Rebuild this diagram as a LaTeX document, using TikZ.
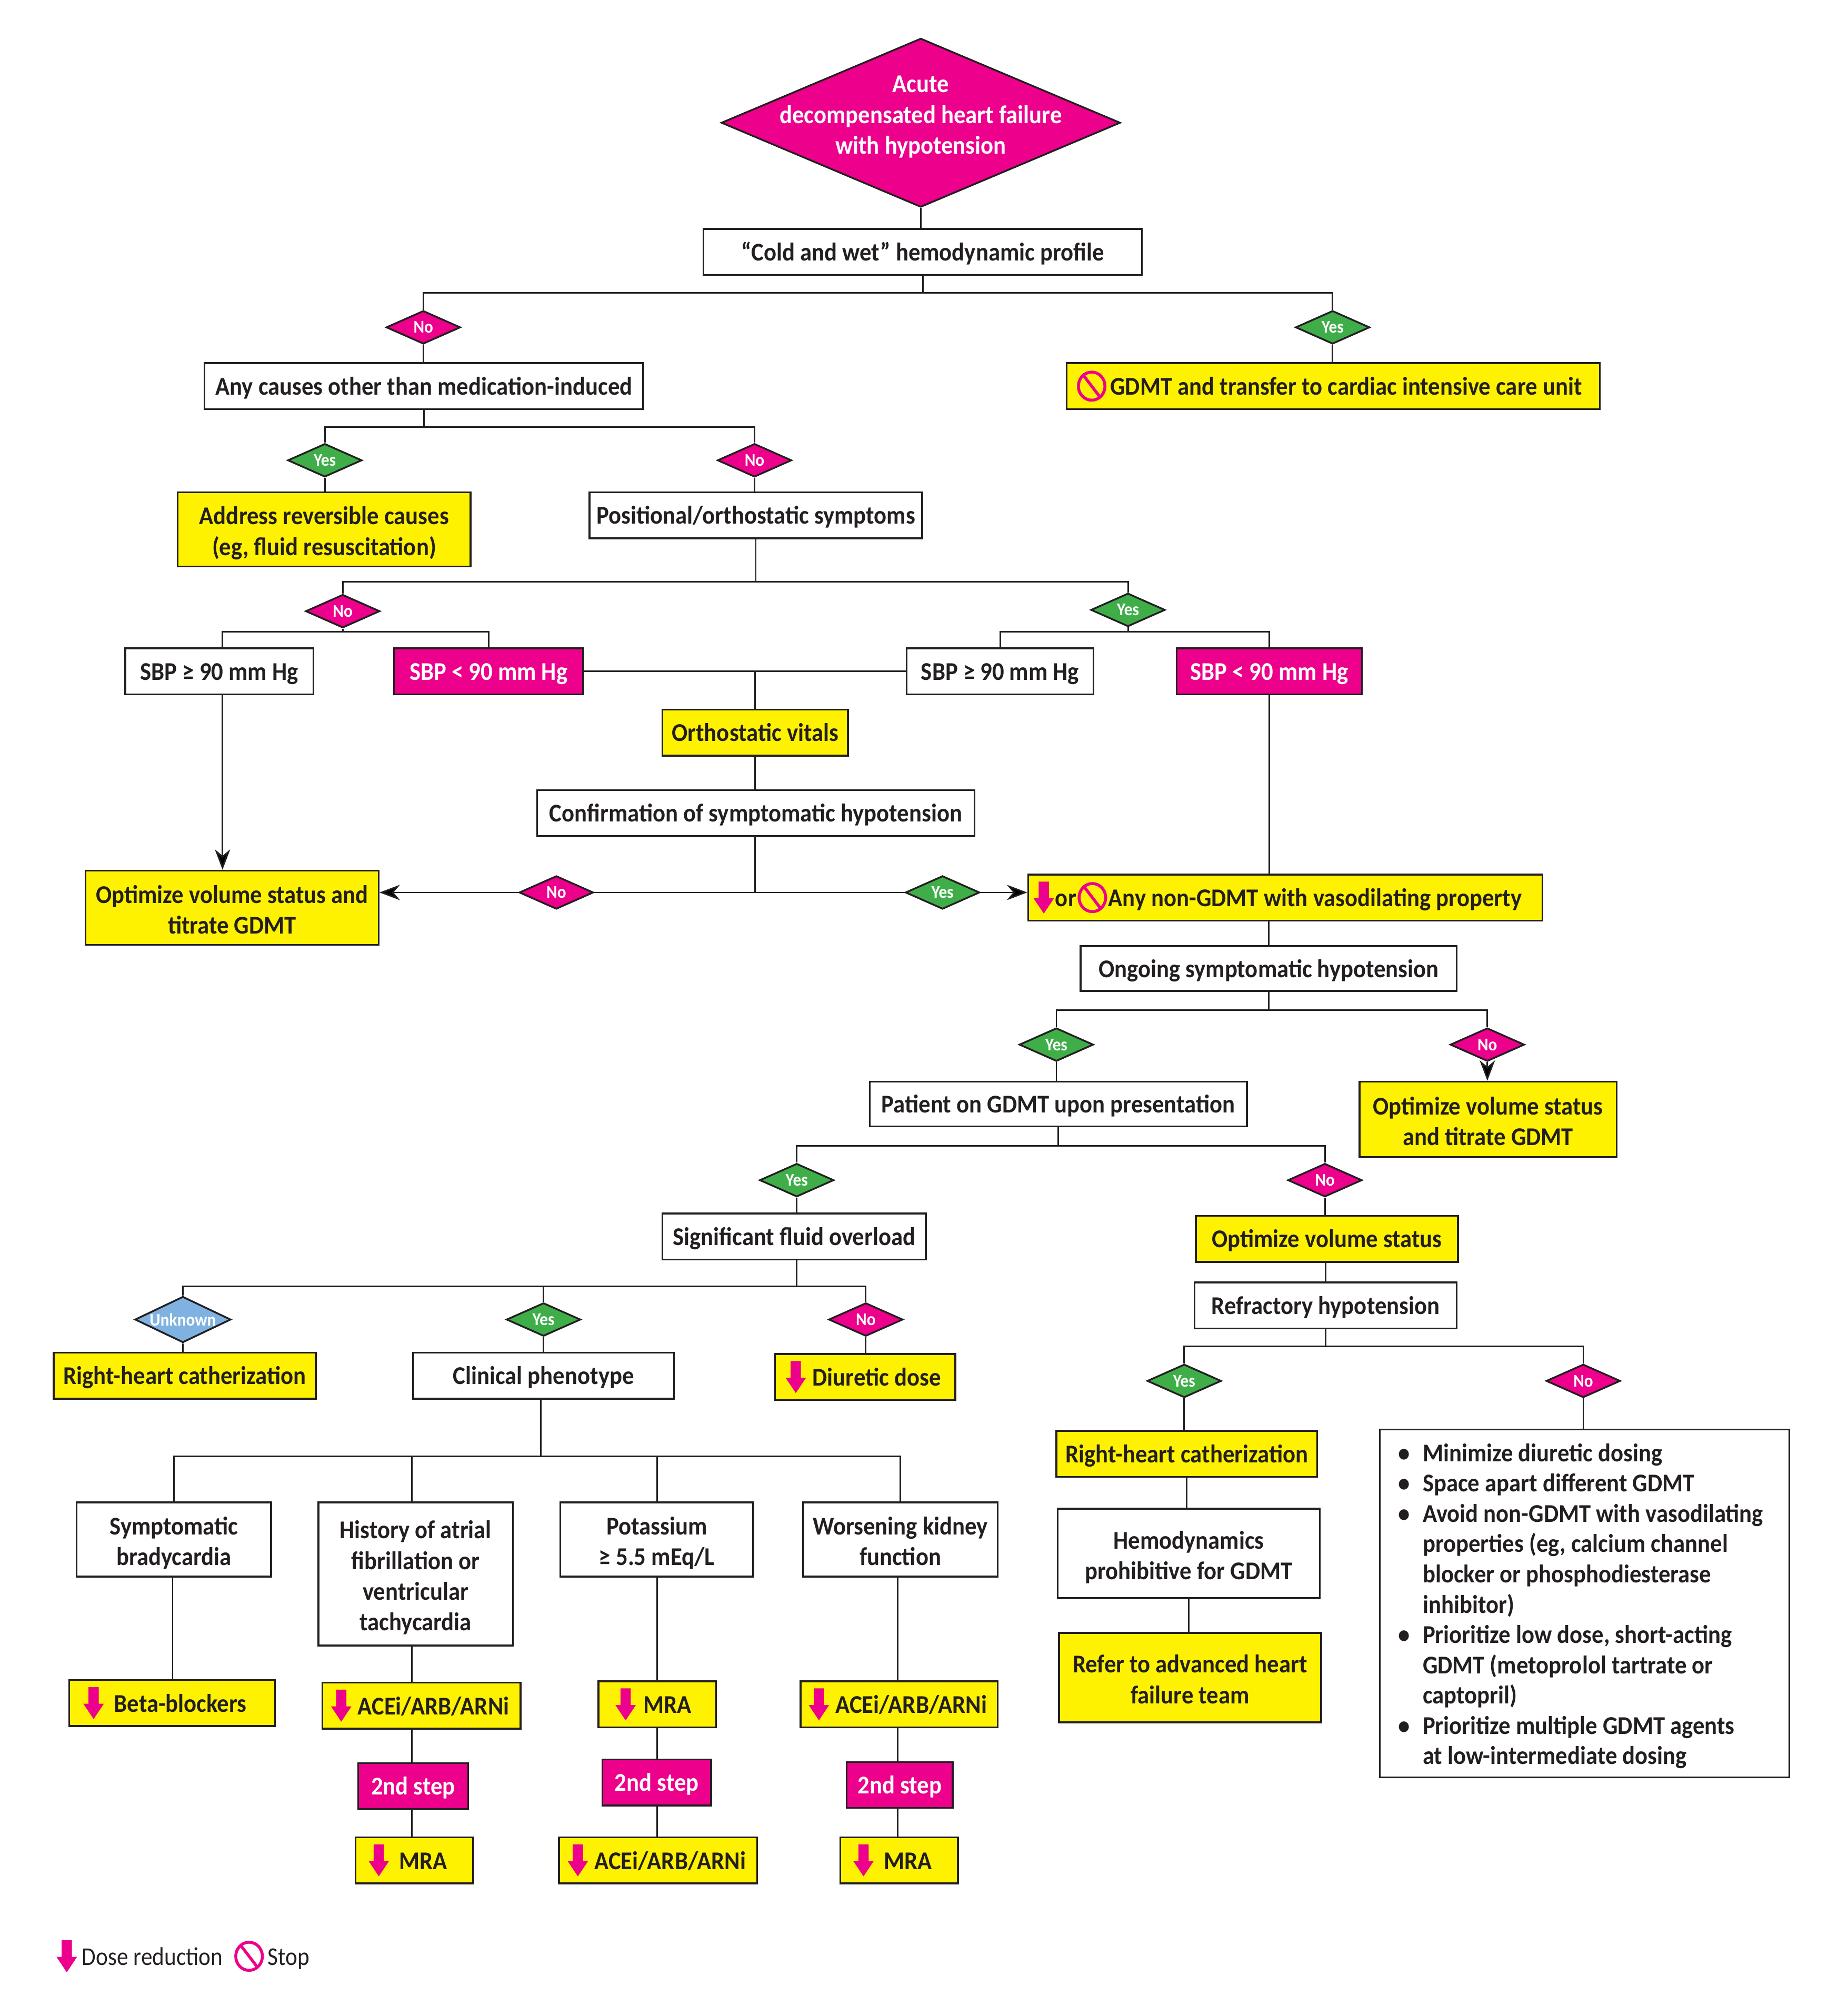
\documentclass[tikz,border=0pt]{standalone}
\usepackage{fontspec}
\setmainfont{Carlito}[UprightFeatures={FakeStretch=0.89},BoldFeatures={FakeStretch=0.92}]
\usetikzlibrary{shapes.geometric,arrows.meta}
\definecolor{hotpink}{HTML}{EC008C}
\definecolor{sunyellow}{HTML}{FFF200}
\definecolor{leafgreen}{HTML}{3FAE49}
\definecolor{skyblue}{HTML}{7FB2E0}
\definecolor{inkblack}{HTML}{231F20}
\newcommand{\boxstrut}{\rule[-3.4pt]{0pt}{20.4pt}}
\newcommand{\lowline}{\rule{0pt}{20pt}}
\newcommand{\dosedown}{\tikz[baseline=0pt,x=1pt,y=1pt]\fill[hotpink] (-4,19.5)--(4,19.5)--(4,6.5)--(8,6.5)--(0,-5.5)--(-8,6.5)--(-4,6.5)--cycle;}
\newcommand{\stopsign}{\tikz[baseline=0pt,x=1pt,y=1pt]{\draw[hotpink,line width=2.3pt] (0,7) ellipse (10.4pt and 11pt); \draw[hotpink,line width=2.3pt] (-6.5,15.5)--(6.5,-1.5);}}
\tikzset{
  bx/.style 2 args={minimum width=#1pt,minimum height=#2pt},
  box/.style={draw=inkblack,line width=1.4pt,inner sep=0pt,align=center,text=inkblack,
    font=\fontsize{20}{24}\selectfont\bfseries,execute at begin node=\boxstrut,execute at end node=\boxstrut},
  whitebox/.style={box,fill=white},
  yellowbox/.style={box,fill=sunyellow},
  pinkbox/.style={box,fill=hotpink,text=white},
  dmd/.style={diamond,aspect=2.2,draw=inkblack,line width=1.4pt,inner sep=0pt,text=white,minimum width=58pt,minimum height=26pt,
    font=\fontsize{14}{16}\selectfont\bfseries},
  dyes/.style={dmd,fill=leafgreen},
  dno/.style={dmd,fill=hotpink},
  dunk/.style={dmd,fill=skyblue,minimum width=75pt,minimum height=36pt},
  line/.style={draw=inkblack,line width=1.2pt},
  arr/.style={line,-{Stealth[length=16pt,width=12pt,inset=5pt]}},
  legendtext/.style={inner sep=0pt,text=inkblack,font=\fontsize{20}{24}\selectfont}
}
\begin{document}
\begin{tikzpicture}[x=1pt,y=-1pt]
\useasboundingbox (0,0) rectangle (1445,1568.9);

\node[dno,minimum width=312pt,minimum height=132pt,label={[yshift=4.5pt,text=white,align=center,font=\fontsize{20}{24}\selectfont\bfseries]center:Acute\\decompensated heart failure\\with hypotension}] (acute) at (720,96) {};
\node[whitebox,bx={343}{36}] (cold) at (721.5,197) {“Cold and wet” hemodynamic profile};
\node[dno] (no1) at (331,256) {No};
\node[dyes] (yes1) at (1042,256) {Yes};
\node[whitebox,bx={343}{36}] (other) at (331.5,302) {Any causes other than medication-induced};
\node[yellowbox,bx={417}{36}] (stopg) at (1042.5,302) {\stopsign\hspace{3pt}GDMT and transfer to cardiac intensive care unit\hspace{6pt}};
\node[dyes] (yes2) at (254,360) {Yes};
\node[dno] (no2) at (590,360) {No};
\node[yellowbox,bx={229}{58}] (addr) at (253.5,414) {\lowline Address reversible causes\\(eg, fluid resuscitation)};
\node[whitebox,bx={260}{36}] (pos) at (591,403) {Positional/orthostatic symptoms};
\node[dno] (no3) at (268,478) {No};
\node[dyes] (yes3) at (882,477) {Yes};
\node[whitebox,bx={147}{36}] (sbpa) at (171.5,525) {SBP ≥ 90 mm Hg};
\node[pinkbox,bx={148}{36}] (sbpb) at (382,525) {SBP < 90 mm Hg};
\node[whitebox,bx={146}{36}] (sbpc) at (782,525) {SBP ≥ 90 mm Hg};
\node[pinkbox,bx={145}{36}] (sbpd) at (992.5,525) {SBP < 90 mm Hg};
\node[yellowbox,bx={145}{36}] (orth) at (590.5,573) {Orthostatic vitals};
\node[whitebox,bx={342}{36}] (conf) at (591,636) {Confirmation of symptomatic hypotension};
\node[yellowbox,bx={229}{58}] (opt1) at (181.5,710) {\lowline Optimize volume status and\\titrate GDMT};
\node[dno] (no4) at (435,698) {No};
\node[dyes] (yes4) at (737,698) {Yes};
\node[yellowbox,bx={402}{36}] (any) at (1005,702) {\dosedown\hspace{1pt}or\hspace{1pt}\stopsign\hspace{1pt}Any non-GDMT with vasodilating property\hspace{12pt}};
\node[whitebox,bx={294}{35}] (ong) at (992,757.5) {Ongoing symptomatic hypotension};
\node[dyes] (yes5) at (826,817) {Yes};
\node[dno] (no5) at (1163,817) {No};
\node[whitebox,bx={295}{35}] (pat) at (827.5,863.5) {Patient on GDMT upon presentation};
\node[yellowbox,bx={201}{59}] (opt2) at (1163.5,875.5) {\lowline Optimize volume status\\and titrate GDMT};
\node[dyes] (yes6) at (623,923) {Yes};
\node[dno] (no6) at (1036,923) {No};
\node[whitebox,bx={206}{36}] (sig) at (621,967) {Significant fluid overload};
\node[yellowbox,bx={205}{36}] (optv) at (1037.5,969) {Optimize volume status};
\node[whitebox,bx={205}{36}] (refr) at (1036.5,1021) {Refractory hypotension};
\node[dunk] (unk) at (143,1032) {Unknown};
\node[dyes] (yes7) at (425,1032) {Yes};
\node[dno] (no7) at (677,1032) {No};
\node[yellowbox,bx={205}{36}] (rhca) at (144.5,1076) {Right-heart catherization};
\node[whitebox,bx={204}{36}] (clin) at (425,1076) {Clinical phenotype};
\node[yellowbox,bx={141}{36}] (diu) at (676.5,1077) {\dosedown\hspace{5pt}Diuretic dose\hspace{3pt}};
\node[dyes] (yes8) at (926,1080) {Yes};
\node[dno] (no8) at (1238,1080) {No};
\node[yellowbox,bx={204}{36}] (rhcb) at (928,1137) {Right-heart catherization};
\node[whitebox,bx={205}{70}] (hemo) at (929.5,1215) {\lowline Hemodynamics\\prohibitive for GDMT};
\node[yellowbox,bx={205}{70}] (refer) at (930.5,1312) {\lowline Refer to advanced heart\\failure team};
\node[draw=inkblack,line width=1.4pt,fill=white,inner sep=0pt,text=inkblack,minimum width=320pt,minimum height=272pt,font=\fontsize{20}{23.7}\selectfont\bfseries] (bull) at (1239,1254) {%
  \begin{tabular}{@{}l@{\hspace{10pt}}l@{\hspace{6pt}}}
  \textbullet & \rule{0pt}{22pt}Minimize diuretic dosing\\
  \textbullet & Space apart different GDMT\\
  \textbullet & Avoid non-GDMT with vasodilating\\
  & properties (eg, calcium channel\\
  & blocker or phosphodiesterase\\
  & inhibitor)\\
  \textbullet & Prioritize low dose, short-acting\\
  & GDMT (metoprolol tartrate or\\
  & captopril)\\
  \textbullet & Prioritize multiple GDMT agents\\
  & at low-intermediate dosing
  \end{tabular}};
\node[whitebox,bx={152}{58}] (sym) at (136,1204) {\lowline Symptomatic\\bradycardia};
\node[whitebox,bx={152}{112}] (hist) at (325,1231) {\lowline History of atrial\\fibrillation or\\ventricular\\tachycardia};
\node[whitebox,bx={151}{58}] (pot) at (513.5,1204) {\lowline Potassium\\≥ 5.5 mEq/L};
\node[whitebox,bx={152}{58}] (wors) at (704,1204) {\lowline Worsening kidney\\function};
\node[yellowbox,bx={161}{36}] (beta) at (134.5,1332) {\dosedown\hspace{8pt}Beta-blockers\hspace{11pt}};
\node[yellowbox,bx={155}{36}] (acea) at (329.5,1334) {\dosedown\hspace{5pt}ACEi/ARB/ARNi\hspace{2pt}};
\node[yellowbox,bx={92}{36}] (mrab) at (514,1333) {\dosedown\hspace{6pt}MRA\hspace{6pt}};
\node[yellowbox,bx={154}{36}] (acec) at (703,1333) {\dosedown\hspace{5pt}ACEi/ARB/ARNi\hspace{2pt}};
\node[pinkbox,bx={86}{36}] (stepa) at (323,1397) {2nd step};
\node[pinkbox,bx={85}{36}] (stepb) at (513.5,1394) {2nd step};
\node[pinkbox,bx={83}{36}] (stepc) at (703.5,1396) {2nd step};
\node[yellowbox,bx={92}{36}] (mraa) at (324,1455) {\dosedown\hspace{8pt}MRA\hspace{10pt}};
\node[yellowbox,bx={155}{36}] (aceb) at (514.5,1455) {\dosedown\hspace{5pt}ACEi/ARB/ARNi\hspace{2pt}};
\node[yellowbox,bx={92}{36}] (mrac) at (703,1455) {\dosedown\hspace{8pt}MRA\hspace{10pt}};
\node[legendtext,anchor=west] (dose) at (44,1530) {\dosedown\hspace{4pt}Dose reduction};
\node[legendtext,anchor=west] (halt) at (183,1530) {\stopsign\hspace{3pt}Stop};

\coordinate (ja) at (721.5,229);
\coordinate (jb) at (331.5,334);
\coordinate (jc) at (591,455);
\coordinate (jd) at (268,494);
\coordinate (je) at (882,494);
\coordinate (jf) at (590.5,525);
\coordinate (jg) at (590.5,698);
\coordinate (jh) at (992,790);
\coordinate (ji) at (827.5,896);
\coordinate (jj) at (623,1006);
\coordinate (jk) at (1036.5,1053);
\coordinate (jl) at (423,1139);
\coordinate (xa) at (174,0);
\coordinate (xb) at (322,0);
\coordinate (xc) at (514,0);
\coordinate (xd) at (702,0);
\coordinate (xe) at (135,0);

\draw[line] (acute.south) -- (acute.south |- cold.north);
\draw[line] (cold.south -| ja) -- (ja);
\draw[line] (ja) -| (no1.north);
\draw[line] (ja) -| (yes1.north);
\draw[line] (no1.south) -- (other.north -| no1.south);
\draw[line] (yes1.south) -- (stopg.north -| yes1.south);
\draw[line] (other.south) -- (jb);
\draw[line] (jb) -| (yes2.north);
\draw[line] (jb) -| (no2.north);
\draw[line] (yes2.south) -- (addr.north -| yes2.south);
\draw[line] (no2.south) -- (pos.north -| no2.south);
\draw[line] (pos.south) -- (jc);
\draw[line] (jc) -| (no3.north);
\draw[line] (jc) -| (yes3.north);
\draw[line] (no3.south) -- (jd);
\draw[line] (jd) -| (sbpa.north -| xa);
\draw[line] (jd) -| (sbpb.north);
\draw[line] (yes3.south) -- (je);
\draw[line] (je) -| (sbpc.north);
\draw[line] (je) -| (sbpd.north);
\draw[line] (sbpb.east) -- (sbpc.west);
\draw[line] (jf) -- (orth.north -| jf);
\draw[line] (orth.south -| jf) -- (conf.north -| jf);
\draw[line] (conf.south -| jf) -- (jg);
\draw[line] (jg) -- (no4.east);
\draw[line] (jg) -- (yes4.west);
\draw[arr] (no4.west) -- (opt1.east |- no4.west);
\draw[arr] (yes4.east) -- (any.west |- yes4.east);
\draw[arr] (sbpa.south -| xa) -- (opt1.north -| xa);
\draw[line] (sbpd.south) -- (any.north -| sbpd.south);
\draw[line] (any.south -| ong.north) -- (ong.north);
\draw[line] (ong.south) -- (jh);
\draw[line] (jh) -| (yes5.north);
\draw[line] (jh) -| (no5.north);
\draw[line] (yes5.south) -- (pat.north -| yes5.south);
\draw[arr] (no5.south) -- (opt2.north -| no5.south);
\draw[line] (pat.south) -- (ji);
\draw[line] (ji) -| (yes6.north);
\draw[line] (ji) -| (no6.north);
\draw[line] (yes6.south) -- (sig.north -| yes6.south);
\draw[line] (no6.south) -- (optv.north -| no6.south);
\draw[line] (optv.south -| refr.north) -- (refr.north);
\draw[line] (refr.south) -- (jk);
\draw[line] (jk) -| (yes8.north);
\draw[line] (jk) -| (no8.north);
\draw[line] (yes8.south) -- (rhcb.north -| yes8.south);
\draw[line] (no8.south) -- (bull.north -| no8.south);
\draw[line] (rhcb.south) -- (hemo.north -| rhcb.south);
\draw[line] (hemo.south) -- (refer.north -| hemo.south);
\draw[line] (sig.south -| jj) -- (jj);
\draw[line] (jj) -| (unk.north);
\draw[line] (jj) -| (no7.north);
\draw[line] (yes7.north |- jj) -- (yes7.north);
\draw[line] (unk.south) -- (rhca.north -| unk.south);
\draw[line] (yes7.south) -- (clin.north);
\draw[line] (no7.south) -- (diu.north -| no7.south);
\draw[line] (clin.south -| jl) -- (jl);
\draw[line] (jl) -| (sym.north);
\draw[line] (jl) -| (wors.north);
\draw[line] (hist.north -| xb) -- (xb |- jl);
\draw[line] (pot.north -| xc) -- (xc |- jl);
\draw[line] (sym.south -| xe) -- (beta.north -| xe);
\draw[line] (hist.south -| xb) -- (acea.north -| xb);
\draw[line] (acea.south -| xb) -- (stepa.north -| xb);
\draw[line] (stepa.south -| xb) -- (mraa.north -| xb);
\draw[line] (pot.south -| xc) -- (mrab.north -| xc);
\draw[line] (mrab.south -| xc) -- (stepb.north -| xc);
\draw[line] (stepb.south -| xc) -- (aceb.north -| xc);
\draw[line] (wors.south -| xd) -- (acec.north -| xd);
\draw[line] (acec.south -| xd) -- (stepc.north -| xd);
\draw[line] (stepc.south -| xd) -- (mrac.north -| xd);
\end{tikzpicture}
\end{document}
